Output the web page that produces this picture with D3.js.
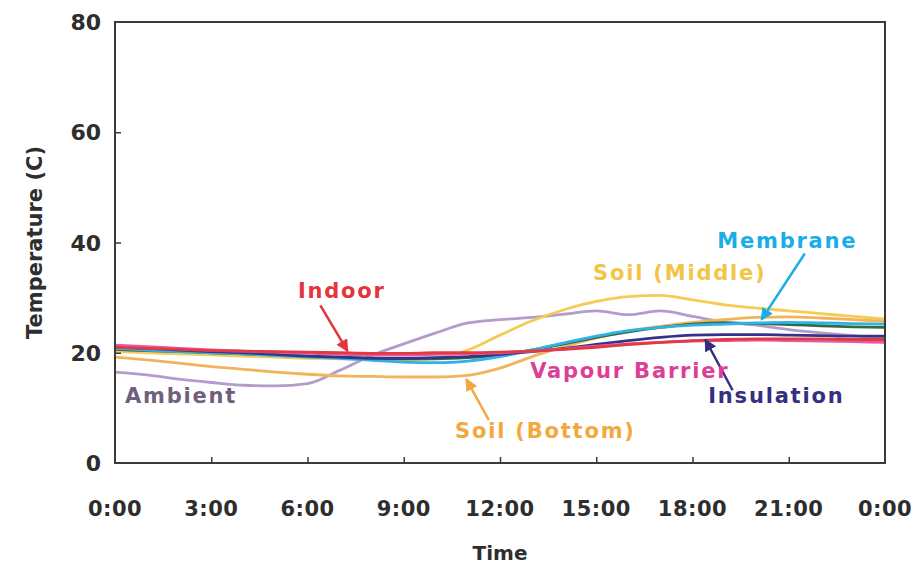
<!DOCTYPE html>
<html>
<head>
<meta charset="utf-8">
<script src="https://cdn.jsdelivr.net/npm/d3@7"></script>
<style>
  body { margin: 0; background: #fff; }
  svg text { font-family: 'DejaVu Sans', sans-serif; font-weight: bold; }
</style>
</head>
<body>
<figure style="margin:0"></figure>
<script>
const width = 918
const height = 566
const margin = { top: 22, right: 33, bottom: 103, left: 115 }

// hours of the day, 0..24
const hours = d3.range(0, 25)
const xTicks = [0, 3, 6, 9, 12, 15, 18, 21, 24]
const xTickLabels = ['0:00', '3:00', '6:00', '9:00', '12:00', '15:00', '18:00', '21:00', '0:00']
const yTicks = [0, 20, 40, 60, 80]

const ambient = [16.5, 16, 15.2, 14.6, 14.1, 14, 14.4, 16.8, 19.5, 21.6, 23.6, 25.4, 26, 26.4, 27, 27.6, 26.9, 27.6, 26.6, 25.6, 25, 24.2, 23.6, 23.1, 22.6]
const soilMiddle = [20.2, 20, 19.8, 19.6, 19.4, 19.2, 19, 18.9, 18.8, 18.7, 19, 20.5, 23.2, 25.8, 27.8, 29.3, 30.2, 30.4, 29.6, 28.7, 28.1, 27.6, 27.1, 26.6, 26.1]
const soilBottom = [19.2, 18.7, 18.1, 17.5, 17, 16.5, 16.1, 15.8, 15.7, 15.6, 15.6, 15.9, 17.2, 19.3, 21.1, 22.7, 23.9, 24.8, 25.5, 26, 26.4, 26.5, 26.3, 26, 25.7]
const membrane = [20.8, 20.5, 20.2, 20, 19.8, 19.5, 19.2, 19, 18.6, 18.3, 18.2, 18.5, 19.3, 20.5, 21.8, 23, 24, 24.6, 25, 25.2, 25.4, 25.5, 25.4, 25.3, 25.2]
const unlabelled = [20.6, 20.4, 20.2, 20, 19.8, 19.6, 19.4, 19.2, 19, 18.9, 18.9, 19.1, 19.6, 20.5, 21.6, 22.8, 23.8, 24.6, 25.2, 25.4, 25.3, 25.1, 24.9, 24.7, 24.6]
const insulation = [21.1, 20.8, 20.5, 20.2, 20, 19.7, 19.4, 19.2, 19, 19, 19.1, 19.3, 19.7, 20.2, 20.8, 21.5, 22.2, 22.8, 23.2, 23.3, 23.3, 23.2, 23.1, 23, 23]
const vapourBarrier = [21.4, 21.1, 20.8, 20.5, 20.3, 20.1, 19.9, 19.7, 19.6, 19.6, 19.7, 19.8, 20, 20.3, 20.7, 21.2, 21.6, 21.9, 22.1, 22.2, 22.3, 22.2, 22.1, 22, 21.9]
const indoor = [21, 20.8, 20.6, 20.4, 20.3, 20.2, 20.1, 20, 19.9, 19.9, 20, 20, 20.1, 20.3, 20.6, 21, 21.5, 21.9, 22.2, 22.4, 22.5, 22.5, 22.5, 22.4, 22.4]

const series = [
  { name: 'Ambient', values: ambient, color: '#b39ccc' },
  { name: 'Soil (Middle)', values: soilMiddle, color: '#f4cc55' },
  { name: 'Soil (Bottom)', values: soilBottom, color: '#f2b45a' },
  { name: '', values: unlabelled, color: '#2f6b45' },
  { name: 'Membrane', values: membrane, color: '#2fb3e3' },
  { name: 'Insulation', values: insulation, color: '#35328a' },
  { name: 'Vapour Barrier', values: vapourBarrier, color: '#e45ca4' },
  { name: 'Indoor', values: indoor, color: '#e23a42' }
]

// label text: [hour, temp] of text anchor; arrow from/to in data space
const labels = [
  { text: 'Indoor', at: [7.07, 29.9], anchor: 'middle', color: '#e4343c', arrow: [[6.4, 28.6], [7.25, 20.3]] },
  { text: 'Membrane', at: [18.77, 39.0], anchor: 'start', color: '#19aee6', arrow: [[21.5, 38.0], [20.15, 26.0]] },
  { text: 'Soil (Middle)', at: [14.9, 33.2], anchor: 'start', color: '#f3c545' },
  { text: 'Vapour Barrier', at: [12.94, 15.4], anchor: 'start', color: '#dc3f95' },
  { text: 'Insulation', at: [18.49, 10.9], anchor: 'start', color: '#34307f', arrow: [[19.25, 13.2], [18.4, 22.4]] },
  { text: 'Soil (Bottom)', at: [10.6, 4.5], anchor: 'start', color: '#f2a83a', arrow: [[11.65, 7.8], [10.95, 15.2]] },
  { text: 'Ambient', at: [0.31, 10.9], anchor: 'start', color: '#6f5f7c' }
]

const x = d3.scaleLinear().domain([0, 24]).range([margin.left, width - margin.right])
const y = d3.scaleLinear().domain([0, 80]).range([height - margin.bottom, margin.top])

const svg = d3.select('figure').append('svg')
  .attr('width', width)
  .attr('height', height)

const defs = svg.append('defs')
labels.filter(d => d.arrow).forEach((d, i) => {
  defs.append('marker')
    .attr('id', 'arrow' + i)
    .attr('viewBox', '0 0 10 10')
    .attr('refX', 9)
    .attr('refY', 5)
    .attr('markerWidth', 5)
    .attr('markerHeight', 5)
    .attr('orient', 'auto')
    .append('path')
    .attr('d', 'M0,0L10,5L0,10z')
    .attr('fill', d.color)
  d.marker = 'arrow' + i
})

const line = d3.line()
  .x((d, i) => x(hours[i]))
  .y(d => y(d))
  .curve(d3.curveMonotoneX)

svg.append('g')
  .selectAll('path')
  .data(series)
  .join('path')
  .attr('fill', 'none')
  .attr('stroke', d => d.color)
  .attr('stroke-width', 2.8)
  .attr('stroke-linejoin', 'round')
  .attr('d', d => line(d.values))

// frame
svg.append('rect')
  .attr('x', x(0))
  .attr('y', y(80))
  .attr('width', x(24) - x(0))
  .attr('height', y(0) - y(80))
  .attr('fill', 'none')
  .attr('stroke', '#3a3a3a')
  .attr('stroke-width', 2)

// inward ticks
const xAxis = d3.axisTop(x).tickValues(xTicks.slice(1, -1)).tickSize(6).tickFormat('')
svg.append('g')
  .attr('transform', `translate(0,${y(0)})`)
  .call(xAxis)
  .call(g => g.select('.domain').remove())
  .call(g => g.selectAll('line').attr('stroke', '#3a3a3a').attr('stroke-width', 1.5))

const yAxis = d3.axisRight(y).tickValues(yTicks.slice(1, -1)).tickSize(6).tickFormat('')
svg.append('g')
  .attr('transform', `translate(${x(0)},0)`)
  .call(yAxis)
  .call(g => g.select('.domain').remove())
  .call(g => g.selectAll('line').attr('stroke', '#3a3a3a').attr('stroke-width', 1.5))

// tick labels
svg.append('g')
  .selectAll('text')
  .data(xTicks)
  .join('text')
  .attr('x', d => x(d))
  .attr('y', y(0) + 53)
  .attr('text-anchor', 'middle')
  .attr('font-size', 21)
  .attr('letter-spacing', 0.5)
  .attr('fill', '#2e2e2e')
  .text((d, i) => xTickLabels[i])

svg.append('g')
  .selectAll('text')
  .data(yTicks)
  .join('text')
  .attr('x', x(0) - 14)
  .attr('y', d => y(d) + 8)
  .attr('text-anchor', 'end')
  .attr('font-size', 22)
  .attr('fill', '#2e2e2e')
  .text(d => d)

svg.append('text')
  .attr('x', (x(0) + x(24)) / 2)
  .attr('y', y(0) + 97)
  .attr('text-anchor', 'middle')
  .attr('font-size', 20)
  .attr('fill', '#2e2e2e')
  .text('Time')

svg.append('text')
  .attr('transform', `translate(42,${(y(0) + y(80)) / 2}) rotate(-90)`)
  .attr('text-anchor', 'middle')
  .attr('font-size', 21)
  .attr('fill', '#2e2e2e')
  .text('Temperature (C)')

// annotations
const notes = svg.append('g')
notes.selectAll('line')
  .data(labels.filter(d => d.arrow))
  .join('line')
  .attr('x1', d => x(d.arrow[0][0]))
  .attr('y1', d => y(d.arrow[0][1]))
  .attr('x2', d => x(d.arrow[1][0]))
  .attr('y2', d => y(d.arrow[1][1]))
  .attr('stroke', d => d.color)
  .attr('stroke-width', 2.5)
  .attr('marker-end', d => `url(#${d.marker})`)

notes.selectAll('text')
  .data(labels)
  .join('text')
  .attr('x', d => x(d.at[0]))
  .attr('y', d => y(d.at[1]))
  .attr('text-anchor', d => d.anchor)
  .attr('font-size', 21)
  .attr('letter-spacing', 1.8)
  .attr('fill', d => d.color)
  .text(d => d.text)
</script>
</body>
</html>
